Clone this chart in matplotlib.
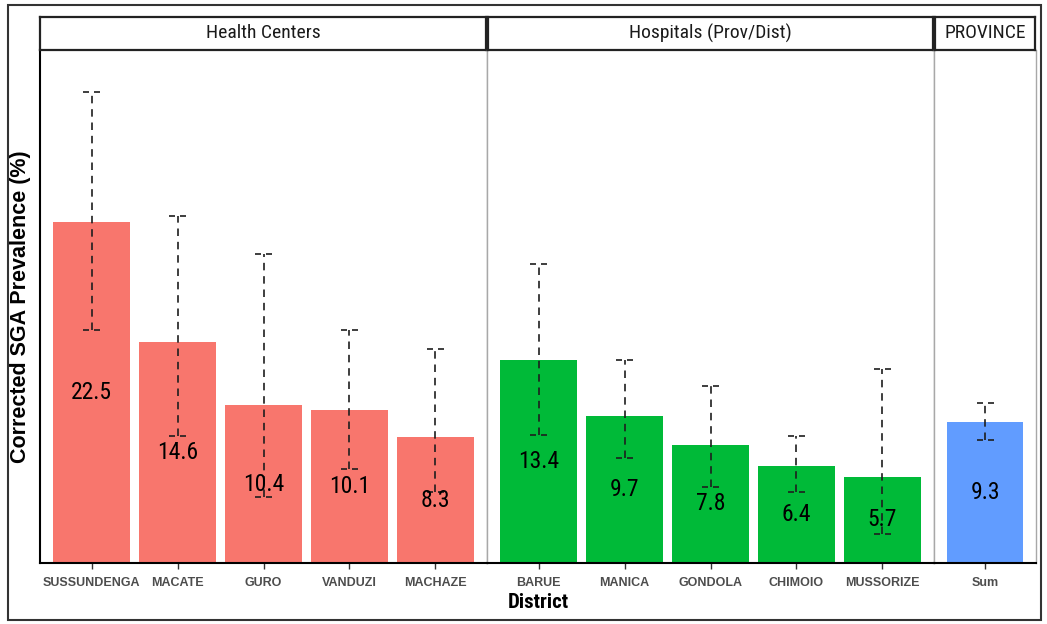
import numpy as np
import matplotlib.pyplot as plt
from matplotlib.patches import Rectangle

# corrected SGA prevalence by district, with confidence limits
hc_names = ['SUSSUNDENGA', 'MACATE', 'GURO', 'VANDUZI', 'MACHAZE']
hc_vals = [22.5, 14.6, 10.4, 10.1, 8.3]
hc_low = [15.4, 8.4, 4.35, 6.2, 4.7]
hc_high = [31.1, 22.9, 20.4, 15.4, 14.1]

hosp_names = ['BARUE', 'MANICA', 'GONDOLA', 'CHIMOIO', 'MUSSORIZE']
hosp_vals = [13.4, 9.7, 7.8, 6.4, 5.7]
hosp_low = [8.45, 6.9, 5.0, 4.7, 1.9]
hosp_high = [19.7, 13.4, 11.7, 8.4, 12.8]

prov_names = ['Sum']
prov_vals = [9.3]
prov_low = [8.1]
prov_high = [10.55]

facets = ['Health Centers', 'Hospitals (Prov/Dist)', 'PROVINCE']
colors = ['#F8766D', '#00BA38', '#619CFF']

NARROW = 'Roboto Condensed'
SANS = 'Liberation Sans'

W, H = 1047, 624
fig = plt.figure(figsize=(W / 100, H / 100), dpi=100)

def fx(px):
    return px / W

def fy(py):
    return 1 - py / H

panel_top, panel_bot, strip_top = 50, 563, 17
edges = [(40, 487), (487, 934), (934, 1036)]
groups = [(hc_names, hc_vals, hc_low, hc_high),
          (hosp_names, hosp_vals, hosp_low, hosp_high),
          (prov_names, prov_vals, prov_low, prov_high)]
ymax = 33.84
grey = '#A8A8A8'
ink = '#1E1E1E'

for i, ((x0, x1), (names, vals, lo, hi)) in enumerate(zip(edges, groups)):
    ax = fig.add_axes([fx(x0), fy(panel_bot), fx(x1 - x0), fy(panel_top) - fy(panel_bot)])
    n = len(names)
    x = np.arange(n)
    ax.bar(x, vals, width=0.9, color=colors[i], zorder=2)
    # dashed error bars, caps dashed too
    ax.vlines(x, lo, hi, colors=ink, linestyles=[(0, (4.5, 3.5))], lw=1.2, zorder=3)
    for xx, l, h in zip(x, lo, hi):
        ax.hlines([l, h], xx - 0.1, xx + 0.1, colors=ink,
                  linestyles=[(0, (3.6, 3.0))], lw=1.2, zorder=3)
    for xx, v in zip(x, vals):
        ax.text(xx, v / 2, f'{v:.1f}', ha='center', va='center',
                fontsize=17, family=NARROW, color='black', zorder=4)
    ax.set_xlim(-0.6, n - 0.4)
    ax.set_ylim(0, ymax)
    ax.set_yticks([])
    ax.set_xticks(x)
    ax.set_xticklabels(names, fontsize=9, fontweight='bold', color='#4D4D4D', family=SANS)
    ax.tick_params(axis='x', length=4, width=1, color='#333333', pad=6)
    for side in ['top', 'left', 'right']:
        ax.spines[side].set_color(grey)
        ax.spines[side].set_linewidth(1)
    ax.spines['top'].set_visible(False)
    ax.spines['bottom'].set_color('black')
    ax.spines['bottom'].set_linewidth(1.5)
    if i == 0:
        ax.spines['left'].set_color('black')
        ax.spines['left'].set_linewidth(1.5)

    # facet strip
    sx0 = x0 + (0 if i == 0 else 1)
    sx1 = x1 - 1
    sax = fig.add_axes([fx(sx0), fy(panel_top), fx(sx1 - sx0), fy(strip_top) - fy(panel_top)])
    sax.set_xticks([])
    sax.set_yticks([])
    for sp in sax.spines.values():
        sp.set_color('#222222')
        sp.set_linewidth(1.6)
    sax.text(0.5, 0.5, facets[i], ha='center', va='center', fontsize=14,
             family=NARROW, color='#1A1A1A', transform=sax.transAxes)

fig.text(fx(538), fy(602), 'District', ha='center', va='center',
         fontsize=15, fontweight='bold', family=NARROW)
fig.text(fx(21), fy(307), 'Corrected SGA Prevalence (%)', ha='center', va='center',
         rotation=90, fontsize=15.5, fontweight='bold', family=SANS)

fig.patches.append(Rectangle((fx(8), fy(620)), fx(1041 - 8), fy(5) - fy(620),
                             transform=fig.transFigure, fill=False,
                             edgecolor='#333333', lw=1.5))

fig.savefig('out.png', dpi=100)
